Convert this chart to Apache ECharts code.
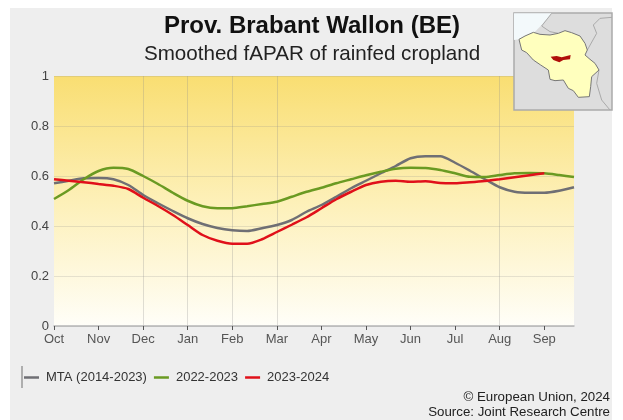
<!DOCTYPE html>
<html><head><meta charset="utf-8">
<style>html,body{margin:0;padding:0;background:#fff;overflow:hidden}
#bg{position:absolute;left:10px;top:8px;width:602px;height:412px;background:#eeeeee}
#c{position:absolute;left:0;top:0;width:623px;height:420px;filter:blur(0.45px)}</style>
<script src="https://cdn.jsdelivr.net/npm/echarts@6/dist/echarts.min.js"></script>
</head><body><div id="bg"></div><div id="c"></div>
<script>
const monthLabels=['Oct','Nov','Dec','Jan','Feb','Mar','Apr','May','Jun','Jul','Aug','Sep'];
const gridMonths=['Dec','Jan','Feb','Mar','Aug'];
const categories=[];
monthLabels.forEach(m=>{categories.push(m,m+'-2',m+'-3')});
const mta=[.571,.581,.591,.592,.587,.564,.524,.491,.46,.431,.408,.392,.383,.38,.391,.404,.424,.457,.484,.517,.551,.581,.611,.64,.671,.679,.679,.653,.621,.587,.555,.537,.533,.533,.541,.555];
const y2022=[.508,.544,.587,.62,.633,.628,.6,.568,.533,.501,.479,.471,.471,.479,.488,.497,.517,.537,.553,.571,.587,.603,.617,.629,.633,.632,.624,.611,.597,.596,.604,.611,.612,.611,.604,.596];
const y2023=[.587,.581,.575,.568,.561,.548,.513,.48,.444,.404,.364,.341,.329,.329,.347,.376,.405,.435,.471,.507,.537,.564,.577,.581,.577,.579,.572,.571,.575,.58,.587,.595,.603,.611];
const seriesNames=['MTA (2014-2023)','2022-2023','2023-2024'];
const xy=(pts)=>pts.map(p=>[500+p[0]/3,p[1]/3]);
const belgium=xy([[57,118],[75,108],[100,97],[120,103],[150,105],[175,100],[195,92],[215,98],[240,108],[255,130],[262,150],[255,165],[270,178],[285,190],[297,210],[275,230],[272,260],[268,290],[235,292],[220,272],[205,265],[190,240],[165,242],[150,238],[145,210],[122,195],[100,180],[80,158],[65,150]]);
const brabant=xy([[152,170],[170,168],[185,172],[200,168],[212,165],[210,178],[190,180],[178,187],[160,180]]);
const sea=xy([[42,40],[155,40],[140,58],[125,75],[105,95],[57,118],[42,120]]);
const border1=xy([[336,52],[300,55],[280,75],[290,100],[262,150]]);
const border2=xy([[297,210],[290,250],[305,300],[330,330]]);
const border3=xy([[155,40],[125,78],[150,95],[175,100]]);
const line=(name,data,color)=>({name,type:'line',data,showSymbol:false,symbol:'none',smooth:.25,
  lineStyle:{color,width:2.5},itemStyle:{color},z:3});
const chart=echarts.init(document.getElementById('c'),null,{renderer:'canvas'});
const sans='"Liberation Sans",Arial,sans-serif';
const bgLine=(pts)=>({type:'polyline',shape:{points:pts},style:{stroke:'#aaa',fill:null,lineWidth:1},z:11});
chart.setOption({
  animation:false,textStyle:{fontFamily:sans},
  title:[
    {text:'Prov. Brabant Wallon (BE)',left:307,textAlign:'center',top:9,textStyle:{fontSize:24,fontWeight:'bold',color:'#111',fontFamily:sans}},
    {text:'Smoothed fAPAR of rainfed cropland',left:307,textAlign:'center',top:39,textStyle:{fontSize:20.6,fontWeight:'normal',color:'#222',fontFamily:sans}}
  ],
  grid:{left:54,top:76,width:520,height:250,show:true,borderWidth:0,
    backgroundColor:new echarts.graphic.LinearGradient(0,0,0,1,[{offset:0,color:'#f9de72'},{offset:.5,color:'#fdf0b8'},{offset:1,color:'#fffef8'}])},
  xAxis:{type:'category',data:categories,boundaryGap:false,
    axisLine:{lineStyle:{color:'#b5b5b5',width:1.5}},
    axisTick:{alignWithLabel:true,length:4,lineStyle:{color:'#555'},interval:(i)=>i%3===0},
    axisLabel:{interval:(i)=>i%3===0,formatter:(v)=>v.slice(0,3),color:'#555',fontSize:13,margin:7},
    splitLine:{show:true,interval:(i,v)=>i%3===0&&gridMonths.includes(v),lineStyle:{color:'rgba(140,140,140,0.28)',width:1}}},
  yAxis:{type:'value',min:0,max:1,interval:.2,
    axisLine:{show:false},axisTick:{show:false},
    axisLabel:{color:'#444',fontSize:13,margin:5},
    splitLine:{lineStyle:{color:'rgba(140,140,140,0.22)',width:1}}},
  legend:{left:19,top:366,itemWidth:15,itemHeight:2.5,itemGap:7,icon:'rect',
    data:seriesNames,textStyle:{color:'#333',fontSize:13,padding:[0,0,0,2]}},
  series:[line(seriesNames[0],mta,'#6f6f74'),line(seriesNames[1],y2022,'#6a9a22'),line(seriesNames[2],y2023,'#e0101a')],
  graphic:[
    {type:'line',shape:{x1:22,y1:366,x2:22,y2:388},style:{stroke:'#999',lineWidth:1.5},z:10},
    {type:'text',right:13,top:391,style:{text:'© European Union, 2024',fill:'#222',font:'13.3px '+sans,align:'right'},z:10},
    {type:'text',right:13,top:406,style:{text:'Source: Joint Research Centre',fill:'#222',font:'13.3px '+sans,align:'right'},z:10},
    {type:'rect',shape:{x:514,y:13,width:98,height:97},style:{fill:'#dddddd',stroke:'#aaa',lineWidth:1.5},z:10},
    {type:'polygon',shape:{points:sea},style:{fill:'#f3f9fb'},z:11},
    bgLine(border1),bgLine(border2),bgLine(border3),
    {type:'polygon',shape:{points:belgium},style:{fill:'#ffffbe',stroke:'#777',lineWidth:1},z:12},
    {type:'polygon',shape:{points:brabant},style:{fill:'#b00f0a'},z:13}
  ]
});
</script></body></html>
